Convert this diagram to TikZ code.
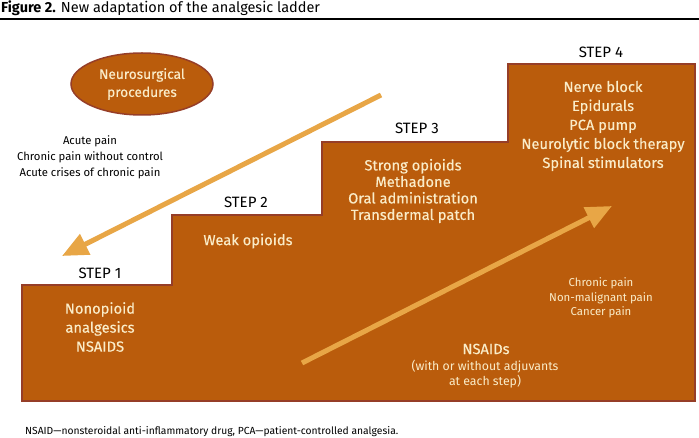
\documentclass[tikz,border=0pt]{standalone}
\usepackage{fontspec}
\setmainfont{Fira Sans}
\usetikzlibrary{arrows.meta,shapes.geometric}
\definecolor{stairfill}{RGB}{186,92,12}
\definecolor{stairedge}{RGB}{150,62,40}
\definecolor{cream}{RGB}{250,236,200}
\definecolor{arrowcol}{RGB}{232,166,70}
\tikzset{
  steplabel/.style={font=\fontsize{15}{17}\selectfont, text=black},
  drugtext/.style={font=\fontsize{14.7}{19}\selectfont\addfontfeatures{FakeBold=0.3}, text=cream, align=center},
  smallwhite/.style={font=\fontsize{11.4}{14.5}\selectfont, text=cream, align=center},
  smallblack/.style={font=\fontsize{11.3}{16}\selectfont, text=black, align=center},
  bigarrow/.style={draw=arrowcol, line width=5pt, -{Triangle[length=26pt,width=22pt]}},
}
\begin{document}
\begin{tikzpicture}[x=1pt,y=-1pt]
\useasboundingbox (0,0) rectangle (699,438);
% title
\node[anchor=base west, inner sep=0, font=\fontsize{14.5}{16}\selectfont] (title) at (1,13) {\textbf{Figure 2.} New adaptation of the analgesic ladder};
\draw[line width=2.5pt] (0,19) -- (699,19);
% staircase
\path[fill=stairfill, draw=stairedge, line width=2pt]
  (22,401) -- (22,285) -- (172,285) -- (172,215) -- (322,215) -- (322,142)
  -- (508,142) -- (508,64) -- (695,64) -- (695,401) -- cycle;
% ellipse
\node[ellipse, fill=stairfill, draw=stairedge, line width=1.5pt, minimum width=142pt, minimum height=62pt,
  font=\fontsize{13.7}{18}\selectfont\addfontfeatures{FakeBold=0.3}, text=cream, align=center, inner sep=0] (neuro) at (142,84) {Neurosurgical\\procedures};
% left text
\node[smallblack] (acute) at (90,157) {Acute pain\\Chronic pain without control\\Acute crises of chronic pain};
% step labels
\node[steplabel] (s1) at (100,273) {STEP 1};
\node[steplabel] (s2) at (246,202) {STEP 2};
\node[steplabel] (s3) at (417,128) {STEP 3};
\node[steplabel] (s4) at (601,52) {STEP 4};
% drug texts
\node[drugtext] (d1) at (100,327) {Nonopioid\\analgesics\\NSAIDS};
\node[drugtext] (d2) at (248,241) {Weak opioids};
\node[drugtext, font=\fontsize{14.7}{16.5}\selectfont\addfontfeatures{FakeBold=0.3}] (d3) at (413,191) {Strong opioids\\Methadone\\Oral administration\\Transdermal patch};
\node[drugtext] (d4) at (603,126) {Nerve block\\Epidurals\\PCA pump\\Neurolytic block therapy\\Spinal stimulators};
\node[smallwhite] (chronic) at (601,298) {Chronic pain\\Non-malignant pain\\Cancer pain};
\node[drugtext] (nsaid) at (486,349) {NSAIDs};
\node[smallwhite, font=\fontsize{12.3}{15}\selectfont] (adj) at (485,374) {(with or without adjuvants\\at each step)};
% arrows
\coordinate (a1s) at (381,95);
\coordinate (a1e) at (62,256);
\coordinate (a2s) at (302,363);
\coordinate (a2e) at (612,206);
\draw[bigarrow] (a1s) -- (a1e);
\draw[bigarrow] (a2s) -- (a2e);
% footnote
\node[anchor=base west, inner sep=0, font=\fontsize{10.3}{12}\selectfont] (foot) at (25,434) {NSAID—nonsteroidal anti-inflammatory drug, PCA—patient-controlled analgesia.};
\end{tikzpicture}
\end{document}
